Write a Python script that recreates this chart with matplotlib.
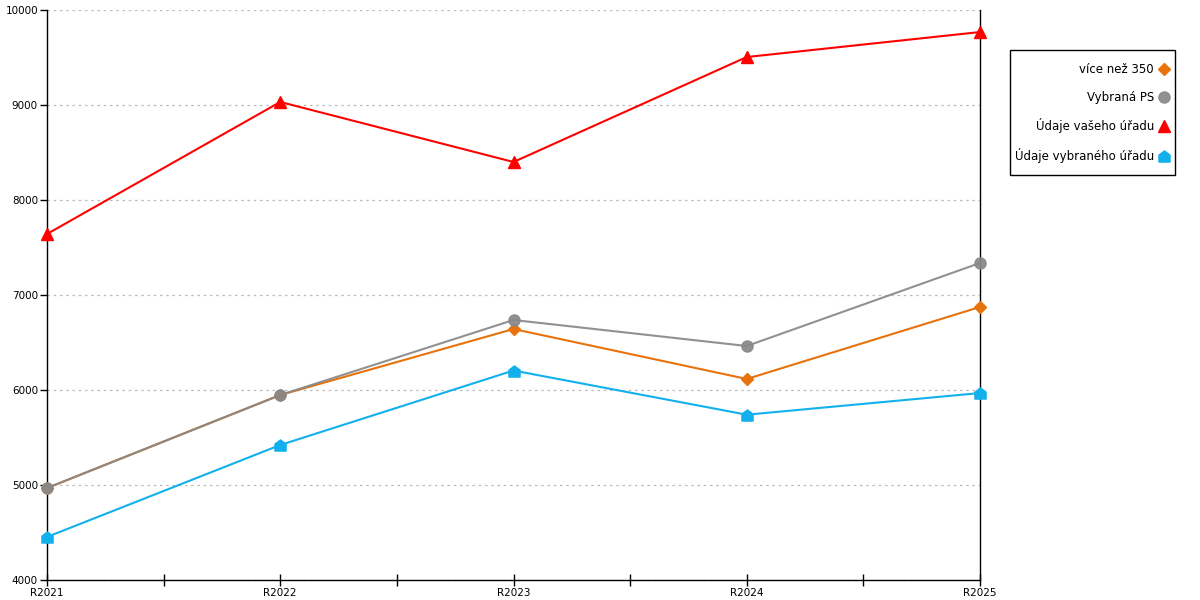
import matplotlib
matplotlib.use("Agg")
import matplotlib.pyplot as plt
from matplotlib.path import Path
from matplotlib.patches import Rectangle
from matplotlib.ticker import MultipleLocator, FixedLocator

categories = ["R2021", "R2022", "R2023", "R2024", "R2025"]
vice_nez_350 = [4968, 5947, 6642, 6116, 6874]
vybrana_ps = [4968, 5947, 6737, 6463, 7337]
udaje_vaseho = [7642, 9032, 8400, 9505, 9768]
udaje_vybraneho = [4453, 5421, 6205, 5740, 5968]

series_names = ["více než 350", "Vybraná PS", "Údaje vašeho úřadu", "Údaje vybraného úřadu"]

house = Path([(-1, -1), (1, -1), (1, 0.25), (0, 1), (-1, 0.25), (-1, -1)],
             [Path.MOVETO, Path.LINETO, Path.LINETO, Path.LINETO, Path.LINETO, Path.CLOSEPOLY])

plt.rcParams['font.family'] = ['DejaVu Sans']
W, H = 1200, 600
fig = plt.figure(figsize=(12, 6), dpi=100)
ax = fig.add_axes([47/W, 1-580/H, (980-47)/W, 570/H])

x = list(range(len(categories)))
ax.plot(x, vice_nez_350, color="#E8720C", lw=1.5, marker="D", ms=6, label=series_names[0], clip_on=False, zorder=3)
ax.plot(x, vybrana_ps, color="#888888", lw=1.5, marker="o", ms=8, label=series_names[1], clip_on=False, zorder=4, alpha=0.92)
ax.plot(x, udaje_vaseho, color="#FF0000", lw=1.5, marker="^", ms=8.5, label=series_names[2], clip_on=False, zorder=5)
ax.plot(x, udaje_vybraneho, color="#12B0EC", lw=1.5, marker=house, ms=8, label=series_names[3], clip_on=False, zorder=5)

ax.set_xlim(0, 4)
ax.set_ylim(4000, 10000)
ax.set_xticks(x)
ax.set_xticklabels(categories)
ax.xaxis.set_minor_locator(FixedLocator([0.5, 1.5, 2.5, 3.5]))
ax.yaxis.set_major_locator(MultipleLocator(1000))
ax.tick_params(axis='x', which='both', direction='inout', length=9, width=1, labelsize=7.5, pad=1)
ax.tick_params(axis='y', which='major', direction='out', length=5, width=1, labelsize=7.5, pad=1.5)
ax.grid(axis='y', color="#BBBBBB", linestyle=(0, (2, 3)), lw=0.9)
ax.set_axisbelow(True)
for s in ["left", "bottom", "right"]:
    ax.spines[s].set_color("black")
    ax.spines[s].set_linewidth(1)
ax.spines["top"].set_visible(False)

# legend frame
fig.patches.append(Rectangle((1010/W, 1-175/H), 165/W, 125/H, transform=fig.transFigure,
                             fill=False, edgecolor="black", lw=1, zorder=10))

leg = fig.legend(loc="upper right", bbox_to_anchor=(1167.5/W, 1-63/H), borderaxespad=0,
                 markerfirst=False, frameon=False,
                 fontsize=8.5, handlelength=0.6, labelspacing=1.24, borderpad=0,
                 handletextpad=0.55, alignment="right")
for h in leg.legend_handles:
    h.set_linestyle("None")
for t in leg.get_texts():
    t.set_ha("right")

fig.savefig("out.png", dpi=100)
